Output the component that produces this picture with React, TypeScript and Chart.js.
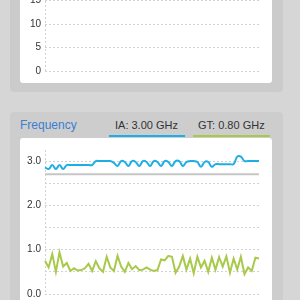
import React, { useEffect, useRef } from "react";
import { Chart, registerables } from "chart.js";

Chart.register(...registerables);

// ---- data ----
const TITLE = "Frequency";
const TAB_IA = "IA: 3.00 GHz";
const TAB_GT = "GT: 0.80 GHz";

const TOP_TICKS = [0, 2.5, 5, 7.5, 10, 12.5, 15, 17.5, 20];
const FREQ_TICKS = [0, 0.5, 1, 1.5, 2, 2.5, 3];

const IA_GHZ = [
  2.86, 2.82, 2.91, 2.82, 2.91, 2.82, 2.91, 2.91, 2.91, 2.91,
  2.91, 2.91, 2.91, 2.91, 3.0, 3.0, 3.0, 3.0, 3.0, 2.96,
  2.89, 3.0, 2.98, 2.89, 3.0, 2.98, 2.89, 3.0, 2.98, 2.89,
  3.0, 2.98, 2.89, 3.0, 2.98, 2.89, 3.0, 3.0, 2.89, 2.98,
  3.0, 3.0, 2.98, 2.87, 2.98, 2.98, 2.87, 2.93, 2.93, 2.93,
  2.93, 2.93, 2.93, 3.1, 3.1, 3.0, 3.0, 3.0, 3.0, 3.0,
];

const GT_GHZ = [
  0.75, 0.6, 0.9, 0.5, 0.94, 0.62, 0.7, 0.52, 0.58, 0.53,
  0.54, 0.58, 0.68, 0.52, 0.74, 0.58, 0.5, 0.84, 0.6, 0.52,
  0.86, 0.62, 0.5, 0.7, 0.56, 0.63, 0.54, 0.55, 0.6, 0.55,
  0.52, 0.54, 0.78, 0.76, 0.86, 0.84, 0.48, 0.62, 0.86, 0.55,
  0.8, 0.47, 0.84, 0.6, 0.75, 0.5, 0.82, 0.55, 0.83, 0.62,
  0.85, 0.48, 0.8, 0.55, 0.84, 0.45, 0.6, 0.52, 0.82, 0.8,
];

const IA_REF = 2.7;

const LABELS = IA_GHZ.map((_, i) => String(i));

// ---- styles ----
const BLUE = "#1eaee6";
const GREEN = "#a9c94a";
const GRAY_LINE = "#c6c6c6";
const GRID = "#d2d2d2";
const FONT = "Arial, 'Liberation Sans', sans-serif";

const leftAxisDash = {
  id: "leftAxisDash",
  beforeDatasetsDraw(chart: any) {
    const { ctx, chartArea } = chart;
    const x = Math.round(chartArea.left) + 0.5;
    ctx.save();
    ctx.strokeStyle = GRID;
    ctx.lineWidth = 1;
    ctx.setLineDash([2, 2]);
    ctx.beginPath();
    ctx.moveTo(x, chartArea.top);
    ctx.lineTo(x, chartArea.bottom);
    ctx.stroke();
    ctx.restore();
  },
};

function baseOptions(ticks: number[], max: number, pad: any, fmt: (v: number) => string) {
  return {
    responsive: false,
    animation: false as const,
    layout: { padding: pad },
    plugins: { legend: { display: false }, tooltip: { enabled: false } },
    scales: {
      x: { display: false },
      y: {
        min: 0,
        max,
        afterBuildTicks: (s: any) => {
          s.ticks = ticks.map((v) => ({ value: v }));
        },
        afterFit: (s: any) => {
          s.width = 25;
        },
        grid: { color: GRID, lineWidth: 1, drawTicks: false },
        border: { display: false, dash: [2, 2] },
        ticks: {
          padding: 4,
          color: "#333",
          font: { size: 10, family: FONT },
          callback: (v: any) => fmt(Number(v)),
        },
      },
    },
  };
}

function TopChart() {
  const ref = useRef<HTMLCanvasElement | null>(null);
  useEffect(() => {
    if (!ref.current) return;
    const chart = new Chart(ref.current, {
      type: "line",
      data: { labels: LABELS, datasets: [{ data: [], borderColor: BLUE, pointRadius: 0 }] },
      options: baseOptions(TOP_TICKS, 20, { top: 17, right: 13, bottom: 12, left: 0 }, (v) =>
        v % 5 === 0 ? String(v) : ""
      ) as any,
      plugins: [leftAxisDash],
    });
    return () => chart.destroy();
  }, []);
  return (
    <canvas
      ref={ref}
      width={252}
      height={123}
      style={{ position: "absolute", left: 20, top: -40, width: 252, height: 123 }}
    />
  );
}

function FreqChart() {
  const ref = useRef<HTMLCanvasElement | null>(null);
  useEffect(() => {
    if (!ref.current) return;
    const chart = new Chart(ref.current, {
      type: "line",
      data: {
        labels: LABELS,
        datasets: [
          { data: IA_GHZ, borderColor: BLUE, borderWidth: 2, pointRadius: 0, tension: 0.4 },
          {
            data: [
              { x: LABELS[0], y: IA_REF },
              { x: LABELS[LABELS.length - 1], y: IA_REF },
            ] as any,
            borderColor: GRAY_LINE,
            borderWidth: 2,
            pointRadius: 0,
          },
          { data: GT_GHZ, borderColor: GREEN, borderWidth: 2, pointRadius: 0, tension: 0 },
        ],
      },
      options: baseOptions(FREQ_TICKS, 3.25, { top: 12, right: 13, bottom: 24, left: 0 }, (v) =>
        v % 1 === 0 ? v.toFixed(1) : ""
      ) as any,
      plugins: [leftAxisDash],
    });
    return () => chart.destroy();
  }, []);
  return (
    <canvas
      ref={ref}
      width={252}
      height={180}
      style={{ position: "absolute", left: 20, top: 138, width: 252, height: 180 }}
    />
  );
}

export default function App() {
  const abs = (s: any) => ({ position: "absolute" as const, ...s });
  return (
    <div
      style={{
        position: "fixed",
        left: 0,
        top: 0,
        width: 300,
        height: 300,
        overflow: "hidden",
        background: "#d6d6d6",
        fontFamily: FONT,
      }}
    >
      <div style={abs({ left: 10, top: -60, width: 273, height: 152, background: "#cbcbcb", borderRadius: 4 })} />
      <div style={abs({ left: 20, top: -50, width: 252, height: 133, background: "#fff", borderRadius: 3 })} />
      <TopChart />

      <div style={abs({ left: 10, top: 112, width: 273, height: 220, background: "#cdcdcd", borderRadius: 4 })} />
      <div style={abs({ left: 20, top: 119, fontSize: 12, lineHeight: "12px", color: "#3a7fd2", whiteSpace: "nowrap" })}>
        {TITLE}
      </div>
      <div style={abs({ left: 115, top: 120, fontSize: 11, lineHeight: "11px", color: "#333", whiteSpace: "nowrap" })}>
        {TAB_IA}
      </div>
      <div style={abs({ left: 109, top: 135, width: 76, height: 2, background: BLUE })} />
      <div style={abs({ left: 198, top: 120, fontSize: 11, lineHeight: "11px", color: "#333", whiteSpace: "nowrap" })}>
        {TAB_GT}
      </div>
      <div style={abs({ left: 193, top: 135, width: 77, height: 2, background: GREEN })} />
      <div style={abs({ left: 20, top: 138, width: 252, height: 200, background: "#fff", borderRadius: 3 })} />
      <FreqChart />
    </div>
  );
}
